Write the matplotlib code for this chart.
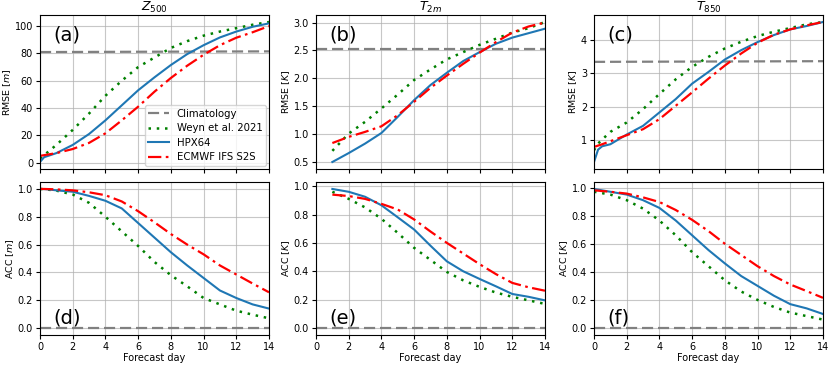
import matplotlib
matplotlib.use("Agg")
import matplotlib.pyplot as plt
import numpy as np

# ---------------- data ----------------
days0 = [0, 0.25, 0.5, 1, 2, 3, 4, 5, 6, 7, 8, 9, 10, 11, 12, 13, 14]
days1 = [1, 2, 3, 4, 5, 6, 7, 8, 9, 10, 11, 12, 13, 14]
clim_days = [0, 14]

# RMSE Z500 [m]
z500_clim = [81.0, 81.5]
z500_weyn = [3, 5.5, 8, 13, 24, 36, 49, 60, 70, 77, 84, 89, 93, 96, 98.5, 101, 103]
z500_hpx = [0.5, 4, 5, 7, 13, 21, 31, 42, 53, 62.5, 71.5, 79.5, 86, 91.7, 96, 99.5, 102]
z500_ecm = [5, 5.5, 6, 7, 10, 14.5, 21.5, 31, 41, 52, 62, 71, 79, 86, 91.5, 95.5, 100]

# RMSE T2m [K]
t2m_clim = [2.52, 2.52]
t2m_weyn = [0.70, 1.01, 1.22, 1.46, 1.71, 1.97, 2.16, 2.34, 2.47, 2.60, 2.71, 2.82, 2.90, 3.01]
t2m_hpx = [0.50, 0.66, 0.83, 1.02, 1.31, 1.61, 1.88, 2.10, 2.31, 2.47, 2.62, 2.73, 2.81, 2.89]
t2m_ecm = [0.84, 0.95, 1.04, 1.14, 1.34, 1.58, 1.83, 2.05, 2.26, 2.46, 2.65, 2.82, 2.93, 3.00]

# RMSE T850 [K]
t850_clim = [3.34, 3.36]
t850_weyn = [0.70, 0.90, 1.02, 1.25, 1.53, 1.93, 2.38, 2.82, 3.19, 3.49, 3.74, 3.94, 4.11, 4.24, 4.35, 4.46, 4.53]
t850_hpx = [0.35, 0.72, 0.82, 0.88, 1.17, 1.43, 1.83, 2.23, 2.69, 3.04, 3.41, 3.69, 3.93, 4.14, 4.31, 4.41, 4.53]
t850_ecm = [0.80, 0.84, 0.88, 0.97, 1.15, 1.33, 1.63, 2.03, 2.43, 2.84, 3.23, 3.59, 3.91, 4.15, 4.31, 4.43, 4.53]

# ACC Z500
acc_clim = [0.0, 0.0]
az_weyn = [1.0, 0.998, 0.995, 0.988, 0.96, 0.90, 0.80, 0.695, 0.59, 0.475, 0.38, 0.30, 0.216, 0.17, 0.125, 0.096, 0.07]
az_hpx = [1.0, 0.999, 0.997, 0.99, 0.98, 0.95, 0.915, 0.86, 0.755, 0.65, 0.545, 0.45, 0.36, 0.27, 0.216, 0.17, 0.14]
az_ecm = [1.0, 1.0, 0.999, 0.997, 0.99, 0.976, 0.955, 0.91, 0.84, 0.76, 0.676, 0.60, 0.53, 0.45, 0.385, 0.32, 0.257]

# ACC T2m
at_weyn = [0.96, 0.91, 0.85, 0.77, 0.67, 0.565, 0.48, 0.395, 0.336, 0.29, 0.25, 0.22, 0.195, 0.17]
at_hpx = [0.98, 0.96, 0.925, 0.865, 0.78, 0.694, 0.58, 0.47, 0.40, 0.346, 0.294, 0.24, 0.22, 0.195]
at_ecm = [0.94, 0.93, 0.91, 0.875, 0.835, 0.765, 0.68, 0.60, 0.525, 0.45, 0.38, 0.318, 0.287, 0.263]

# ACC T850
a8_weyn = [0.97, 0.965, 0.96, 0.95, 0.91, 0.85, 0.765, 0.66, 0.54, 0.44, 0.34, 0.26, 0.20, 0.15, 0.11, 0.085, 0.06]
a8_hpx = [0.99, 0.985, 0.98, 0.97, 0.95, 0.91, 0.855, 0.765, 0.66, 0.555, 0.46, 0.37, 0.30, 0.23, 0.17, 0.14, 0.10]
a8_ecm = [0.98, 0.978, 0.975, 0.97, 0.957, 0.93, 0.897, 0.84, 0.77, 0.69, 0.60, 0.52, 0.44, 0.37, 0.31, 0.263, 0.215]

titles = [r"$Z_{500}$", r"$T_{2m}$", r"$T_{850}$"]
ylabels_top = [r"RMSE [$m$]", r"RMSE [$K$]", r"RMSE [$K$]"]
ylabels_bot = [r"ACC [$m$]", r"ACC [$K$]", r"ACC [$K$]"]
panel_labels = ["(a)", "(b)", "(c)", "(d)", "(e)", "(f)"]
series_names = ["Climatology", "Weyn et al. 2021", "HPX64", "ECMWF IFS S2S"]

# ---------------- plotting ----------------
plt.rcParams['font.family'] = ['DejaVu Sans']
plt.rcParams['font.size'] = 7

fig = plt.figure(figsize=(8.3, 3.66), dpi=100)
lefts = [40/830, 316/830, 594/830]
w = 229/830
top_b, top_h = 1 - 169/366, 154/366
bot_b, bot_h = 1 - 335/366, 153/366

styles = [
    dict(color="gray", ls=(0, (5, 2.2)), lw=1.6),
    dict(color="green", ls=(0, (1, 2.3)), lw=1.8),
    dict(color="#1f77b4", ls="-", lw=1.5),
    dict(color="red", ls=(0, (6, 2, 1.2, 2)), lw=1.6),
]

top_data = [
    (days0, z500_clim, z500_weyn, z500_hpx, z500_ecm),
    (days1, t2m_clim, t2m_weyn, t2m_hpx, t2m_ecm),
    (days0, t850_clim, t850_weyn, t850_hpx, t850_ecm),
]
bot_data = [
    (days0, acc_clim, az_weyn, az_hpx, az_ecm),
    (days1, acc_clim, at_weyn, at_hpx, at_ecm),
    (days0, acc_clim, a8_weyn, a8_hpx, a8_ecm),
]

for i in range(3):
    for row, data in enumerate([top_data[i], bot_data[i]]):
        b = top_b if row == 0 else bot_b
        h = top_h if row == 0 else bot_h
        ax = fig.add_axes([lefts[i], b, w, h])
        x, clim, weyn, hpx, ecm = data
        handles = []
        handles += ax.plot(clim_days, clim, label=series_names[0], **styles[0])
        handles += ax.plot(x, weyn, label=series_names[1], **styles[1])
        handles += ax.plot(x, hpx, label=series_names[2], **styles[2])
        handles += ax.plot(x, ecm, label=series_names[3], **styles[3])
        ax.set_xlim(0, 14)
        ax.set_xticks(np.arange(0, 15, 2))
        ax.grid(True, color="#b0b0b0", lw=0.8, alpha=0.7)
        ax.tick_params(labelsize=7, length=3, pad=2)
        if row == 0:
            ax.set_title(titles[i], fontsize=9, pad=3)
            ax.set_ylabel(ylabels_top[i], fontsize=6.8, labelpad=1)
            ax.set_xticklabels([])
            ax.text(0.06, 0.93, panel_labels[i], transform=ax.transAxes,
                    fontsize=14, va="top", ha="left")
            if i == 0:
                ax.legend(handles=handles, loc="lower right", fontsize=7.3,
                          handlelength=2.0, borderaxespad=0.3, labelspacing=0.45,
                          borderpad=0.35)
        else:
            ax.set_ylabel(ylabels_bot[i], fontsize=6.8, labelpad=1)
            ax.set_xlabel("Forecast day", fontsize=7, labelpad=1)
            ax.text(0.06, 0.05, panel_labels[3 + i], transform=ax.transAxes,
                    fontsize=14, va="bottom", ha="left")

fig.savefig("out.png", dpi=100)
